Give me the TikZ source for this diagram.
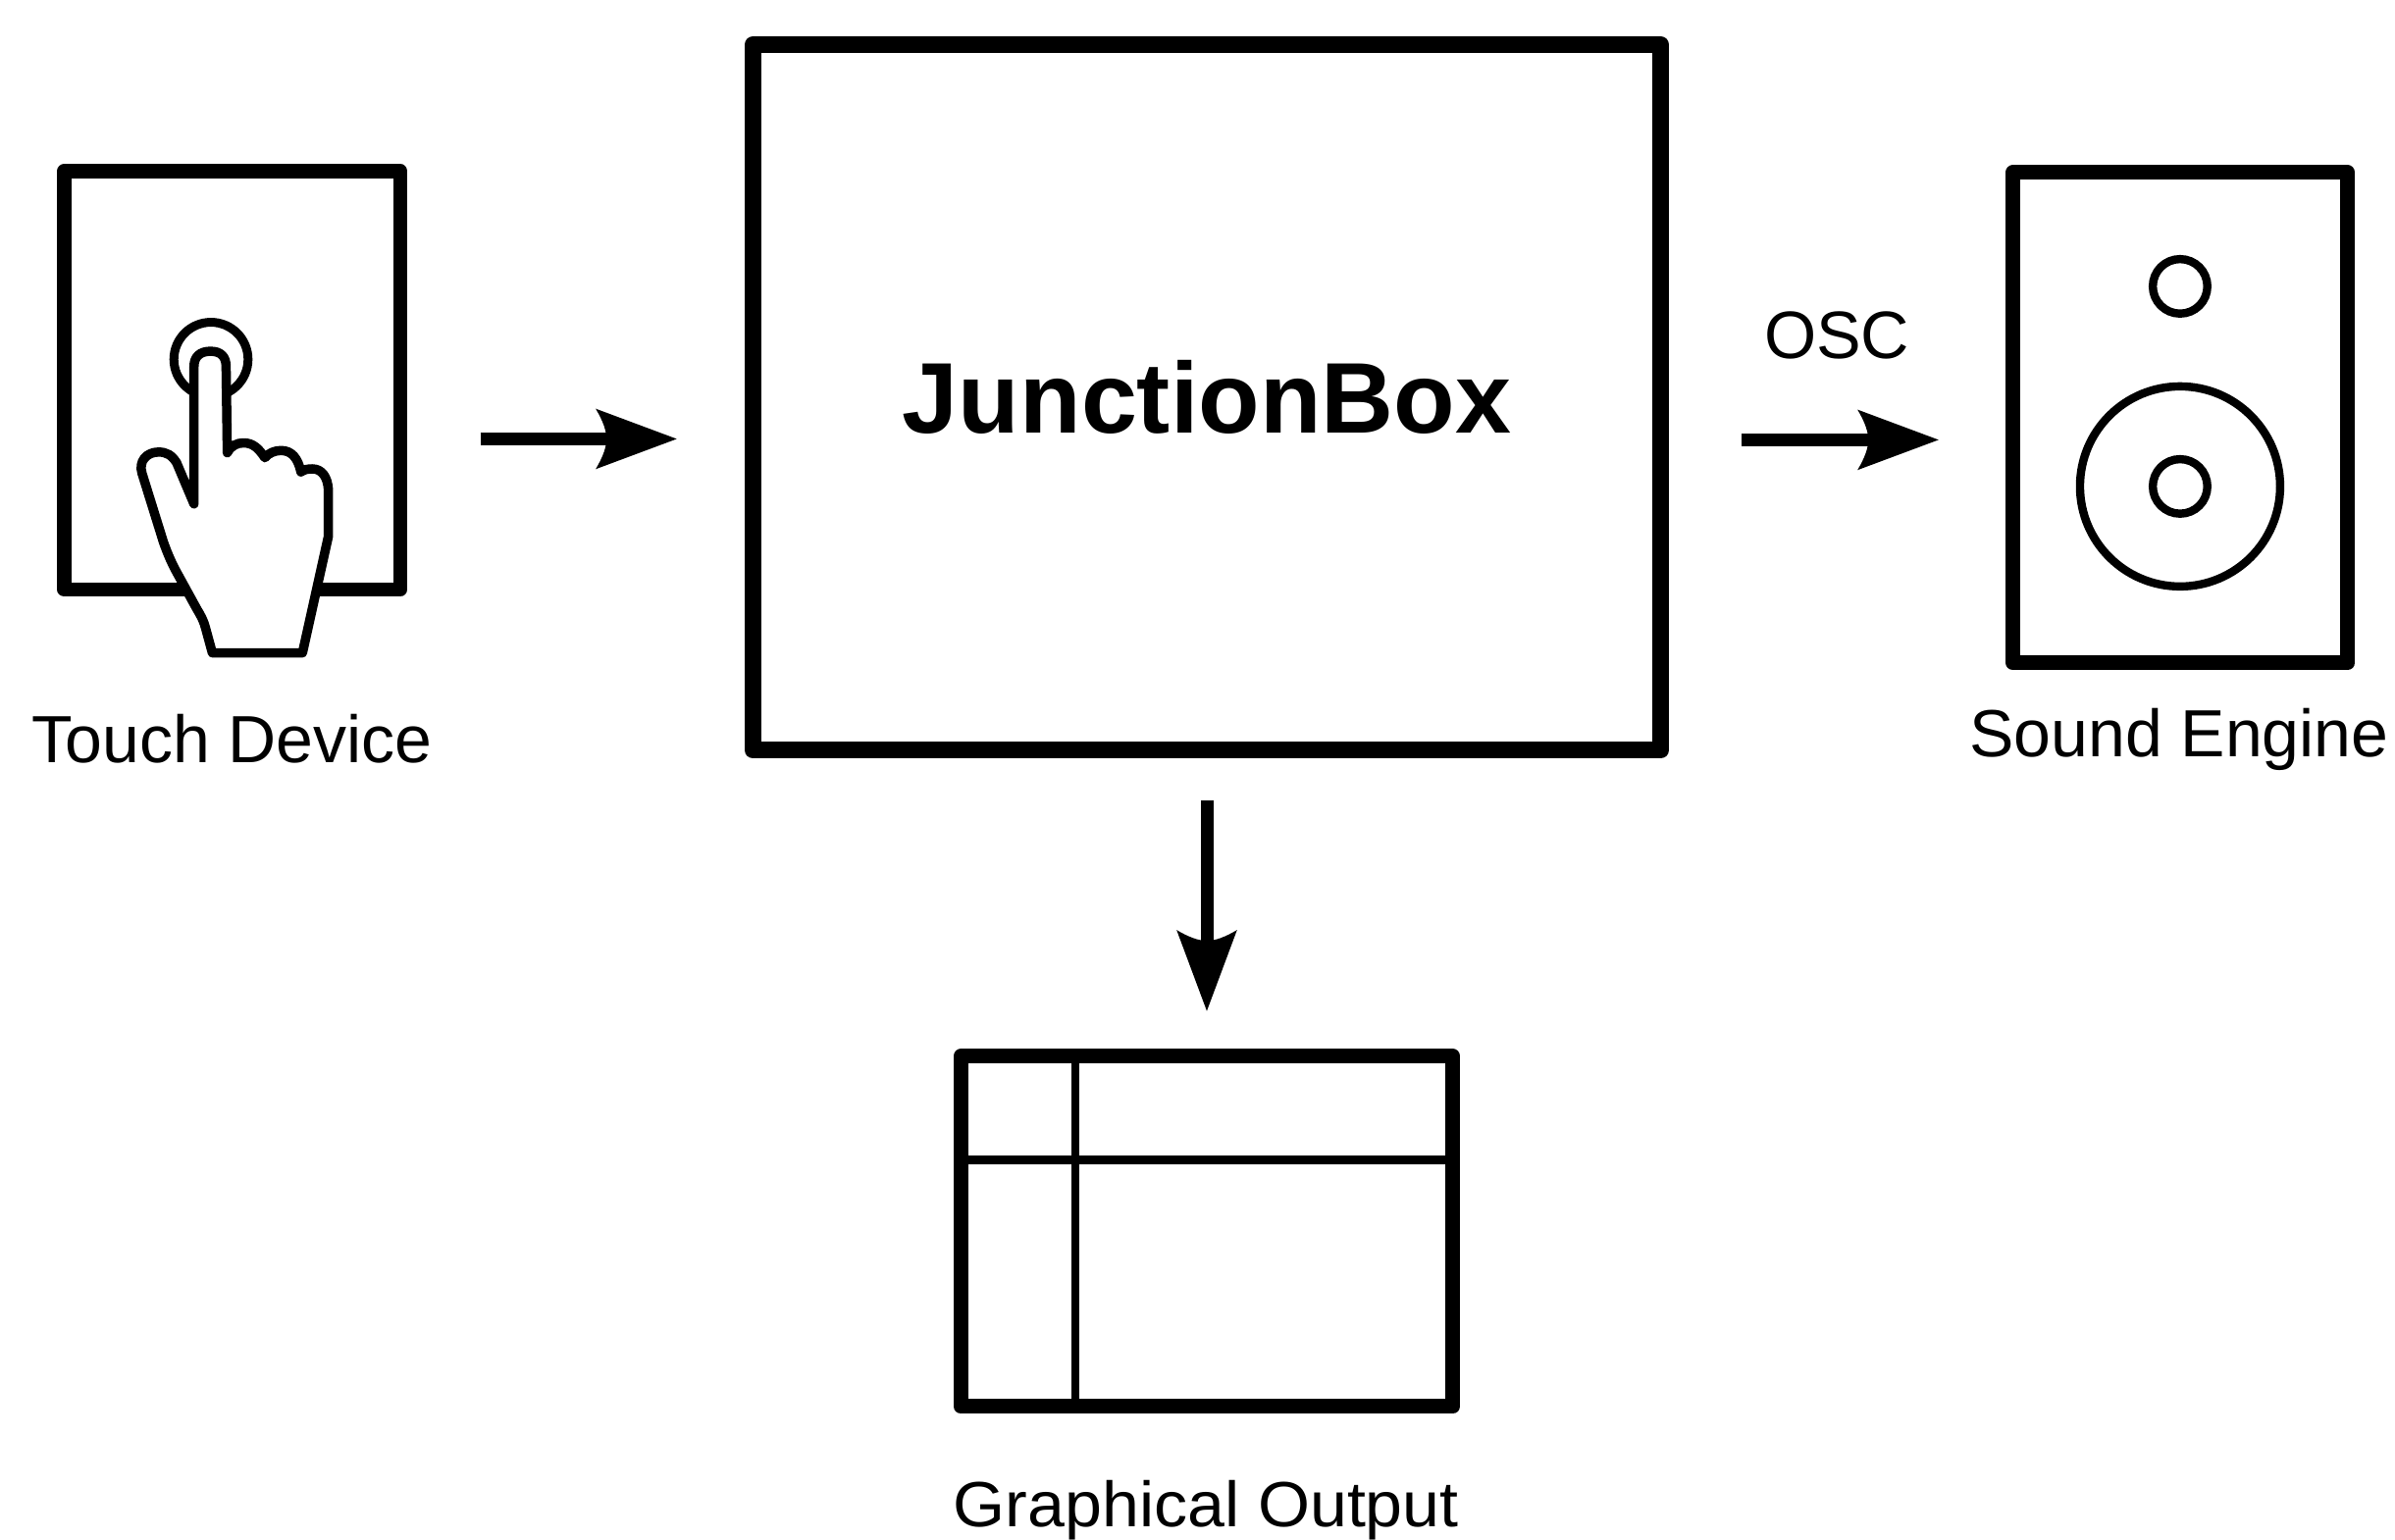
\documentclass[tikz,border=0pt]{standalone}
\usepackage{fontspec}
\setmainfont{Liberation Sans}
\usetikzlibrary{arrows.meta}
\pgfdeclarearrow{
  name=DioTip,
  setup code={
    \pgfarrowssettipend{0pt}
    \pgfarrowssetbackend{-41.3pt}
    \pgfarrowssetlineend{-34pt}
    \pgfarrowssetvisualbackend{-36pt}
  },
  drawing code={
    \pgfsetlinewidth{0pt}
    \pgfpathmoveto{\pgfpoint{0pt}{0pt}}
    \pgfpathlineto{\pgfpoint{-41.3pt}{15.4pt}}
    \pgfpathcurveto{\pgfpoint{-37.5pt}{9pt}}{\pgfpoint{-35.8pt}{4pt}}{\pgfpoint{-35.8pt}{0pt}}
    \pgfpathcurveto{\pgfpoint{-35.8pt}{-4pt}}{\pgfpoint{-37.5pt}{-9pt}}{\pgfpoint{-41.3pt}{-15.4pt}}
    \pgfpathclose
    \pgfusepathqfill
  }
}
\tikzset{
  device/.style={draw=black,fill=white,line width=7.5pt,line join=round,inner sep=0pt,outer sep=0pt},
  thinline/.style={draw=black,line width=4.4pt},
  ring/.style={draw=black,line width=4.2pt,circle,inner sep=0pt,outer sep=0pt},
  flow/.style={draw=black,line width=6.5pt,-{DioTip}},
  caption/.style={inner sep=0pt,outer sep=0pt,anchor=base,font=\fontsize{34pt}{40pt}\selectfont},
  handline/.style={draw=black,fill=white,line width=4.75pt,line join=round,line cap=round}
}
\begin{document}
\begin{tikzpicture}[x=0.7785pt,y=-0.7785pt]
\useasboundingbox (0,0) rectangle (1567.8,1008.3);
% Touch device
\node[device,line width=7.2pt,minimum width=171.3pt,minimum height=213.3pt] (touch) at (152,249) {};
\node[ring,line width=4.5pt,minimum size=37.8pt] (spot) at (138.1,235.3) {};
\draw[handline] (127,240) .. controls (127,233.5) and (131,230) .. (137.8,230)
  .. controls (144.5,230) and (148,233.5) .. (148,240)
  -- (148.8,296.5)
  .. controls (151,292) and (155,290) .. (159.4,290)
  .. controls (166,290) and (169.5,294) .. (173.4,299.7)
  .. controls (176,296.5) and (180,295) .. (184,295)
  .. controls (191,295) and (195,300) .. (197,309)
  .. controls (199,307.5) and (201.5,307) .. (204.4,307)
  .. controls (210.5,307) and (214.5,312) .. (215,321)
  -- (215,351)
  -- (198,427.5)
  -- (139,427.5)
  -- (134.5,411)
  .. controls (133.5,407) and (131.5,403) .. (129,399)
  -- (115.6,374.6)
  .. controls (112,368) and (109.5,362) .. (107,355)
  -- (93,310)
  .. controls (90.5,302) and (96,296) .. (103.8,296)
  .. controls (109,296) and (112.5,298) .. (115.6,303)
  -- (127,330) -- cycle;
\node[caption] (touchlabel) at (152,499.6) {Touch Device};
% JunctionBox
\node[device,line width=8.5pt,minimum width=462.6pt,minimum height=359.7pt,font=\bfseries\fontsize{51.2pt}{60pt}\selectfont] (jbox) at (790,260.3) {JunctionBox};
% Sound engine
\node[device,minimum width=170.6pt,minimum height=249.9pt] (speaker) at (1427.3,273.5) {};
\node[ring,minimum size=27.8pt] (tweeter) at (1427.1,187.5) {};
\node[ring,minimum size=102pt] (woofer) at (1427.1,318.5) {};
\node[ring,minimum size=27.8pt] (cone) at (1427.1,318.5) {};
\node[caption] (soundlabel) at (1426.5,495.3) {Sound Engine};
% Graphical output
\node[device,minimum width=250.7pt,minimum height=178.6pt] (screen) at (790,806.3) {};
\draw[thinline] (screen.north west -| 703.9,0) -- (screen.south west -| 703.9,0);
\draw[thinline] (screen.west |- 0,759.6) -- (screen.east |- 0,759.6);
\node[caption,font=\fontsize{32.6pt}{40pt}\selectfont,xscale=1.045,transform shape] (graphlabel) at (789.5,999.8) {Graphical Output};
% Connectors
\coordinate (a1s) at (314.4,287.4);
\coordinate (a1e) at (443,287.4);
\coordinate (a2s) at (1140,288);
\coordinate (a2e) at (1269,288);
\coordinate (a3s) at (790,524);
\coordinate (a3e) at (790,662);
\draw[flow] (a1s) -- (a1e);
\draw[flow] (a2s) -- (a2e);
\draw[flow] (a3s) -- (a3e);
\node[caption,font=\fontsize{34.2pt}{40pt}\selectfont] (osc) at (1202.5,235) {OSC};
\end{tikzpicture}
\end{document}
